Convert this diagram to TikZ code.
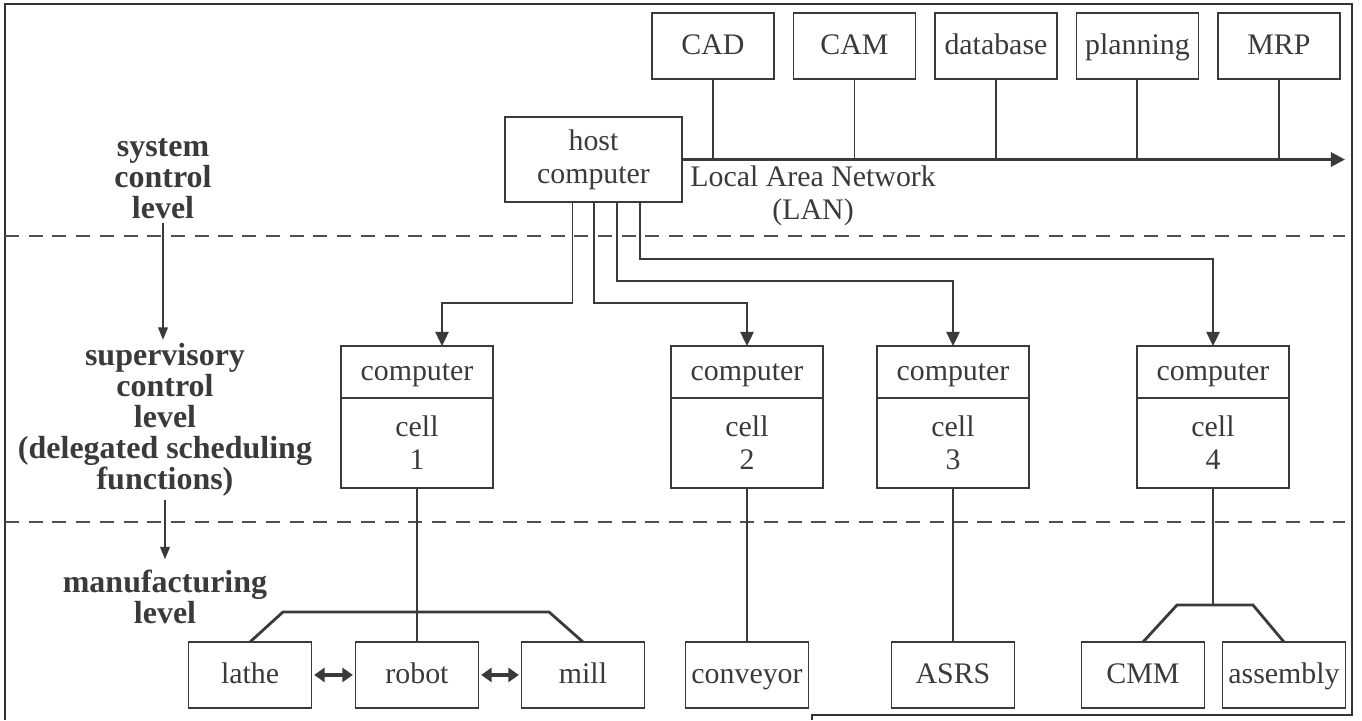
\documentclass[tikz,border=0pt]{standalone}
\usepackage{fontspec}
\setmainfont{Liberation Serif}
\usepackage{tikz}
\usetikzlibrary{arrows.meta,positioning,calc}
\definecolor{inkgray}{RGB}{58,58,58}
\definecolor{dashgray}{RGB}{80,80,80}

\begin{document}
\begin{tikzpicture}[
    x=0.02cm, y=-0.02cm,
    every node/.style={text=inkgray, font=\fontsize{17}{18.7}\selectfont},
    box/.style={rectangle, draw=inkgray, line width=0.8pt, inner sep=1pt, outer sep=0pt, align=center},
    oneline/.style={text height=13pt, text depth=3pt},
    lanbox/.style={box, oneline, minimum width=2.44cm, minimum height=1.32cm},
    hostbox/.style={box, minimum width=3.54cm, minimum height=1.7cm},
    celltop/.style={box, oneline, minimum width=3.04cm, minimum height=1.04cm},
    cellbody/.style={box, minimum width=3.04cm, minimum height=1.8cm},
    device/.style={box, oneline, minimum width=2.46cm, minimum height=1.32cm},
    level/.style={font=\fontsize{18.2}{17.6}\selectfont\bfseries, align=center, inner sep=2pt},
    link/.style={draw=inkgray, line width=1.1pt},
    bus/.style={draw=inkgray, line width=1.6pt},
    arrow/.style={link, -{Triangle[length=8pt,width=7.5pt]}},
    twoway/.style={draw=inkgray, line width=2pt, {Triangle[length=6pt,width=8pt]}-{Triangle[length=6pt,width=8pt]}, shorten <=1.5pt, shorten >=1.5pt},
    levelarrow/.style={draw=inkgray, line width=0.9pt, -{Triangle[length=7pt,width=5.5pt]}},
    divider/.style={draw=dashgray, line width=0.9pt, dash pattern=on 8pt off 5.5pt},
    frame/.style={draw=black!80, line width=1pt}
]
\useasboundingbox (0,0) rectangle (1362,720);

% Page frame
\draw[frame] (5,720) -- (5,4) -- (1352,4) -- (1352,715) -- (812,715) -- (812,720);

% Level separators
\draw[divider] (5,236) -- (1345,236);
\draw[divider] (5,522) -- (1345,522);

% Level labels
\node[level] (syslevel) at (163,179) {system\\control\\level};
\node[level] (suplevel) at (165,420) {supervisory\\control\\level\\(delegated scheduling\\functions)};
\node[level] (mfglevel) at (165,597) {manufacturing\\level};

\draw[levelarrow] (syslevel.south) -- (syslevel.south |- suplevel.north);
\draw[levelarrow, shorten >=4pt] (suplevel.south) -- (suplevel.south |- mfglevel.north);

% System level: host and LAN
\node[hostbox] (host) at (593.5,159.5) {host\\computer};
\coordinate (lanend) at ($(host.east)+(663,0)$);

\node[lanbox] (CAD) at (713,46) {CAD};
\node[lanbox, right=0.39cm of CAD] (CAM) {CAM};
\node[lanbox, right=0.39cm of CAM] (database) {database};
\node[lanbox, right=0.39cm of database] (planning) {planning};
\node[lanbox, right=0.39cm of planning] (MRP) {MRP};

\draw[bus, -{Triangle[length=8pt,width=8pt]}] (host.east) -- (lanend);
\draw[link] (CAD) -- (CAD |- lanend);
\draw[link] (CAM) -- (CAM |- lanend);
\draw[link] (database) -- (database |- lanend);
\draw[link] (planning) -- (planning |- lanend);
\draw[link] (MRP) -- (MRP |- lanend);

\node[anchor=north west, inner sep=0pt, align=center] (lanlabel) at ($(host.east)+(8,6)$) {Local Area Network\\(LAN)};

% Supervisory level: cell computers
\node[celltop] (cell1t) at (417,372) {computer};
\node[cellbody, below=0pt of cell1t] (cell1b) {cell\\1};
\node[celltop] (cell2t) at (747,372) {computer};
\node[cellbody, below=0pt of cell2t] (cell2b) {cell\\2};
\node[celltop] (cell3t) at (953,372) {computer};
\node[cellbody, below=0pt of cell3t] (cell3b) {cell\\3};
\node[celltop] (cell4t) at (1213,372) {computer};
\node[cellbody, below=0pt of cell4t] (cell4b) {cell\\4};

% Host to cells
\draw[arrow] ($(host.south)+(-21,0)$) -- ++(0,101) -| ($(cell1t.north)+(25,0)$);
\draw[arrow] ($(host.south)+(0.5,0)$) -- ++(0,101) -| (cell2t.north);
\draw[arrow] ($(host.south)+(23.5,0)$) -- ++(0,79) -| (cell3t.north);
\draw[arrow] ($(host.south)+(46.5,0)$) -- ++(0,57) -| (cell4t.north);

% Manufacturing level: devices
\node[device, below=3.08cm of cell1b] (robot) {robot};
\node[device, left=0.88cm of robot] (lathe) {lathe};
\node[device, right=0.86cm of robot] (mill) {mill};
\node[device, below=3.08cm of cell2b] (conveyor) {conveyor};
\node[device, below=3.08cm of cell3b] (ASRS) {ASRS};
\node[device] (CMM) at (1143,675) {CMM};
\node[device, right=0.36cm of CMM] (assembly) {assembly};

% Cell 1
\draw[link] (cell1b) -- (robot);
\draw[bus] (lathe.north) -- ++(33,-30) -- ($(mill.north)+(-34,-30)$) -- (mill.north);
\draw[twoway] (lathe) -- (robot);
\draw[twoway] (robot) -- (mill);

% Cells 2 and 3
\draw[link] (cell2b) -- (conveyor);
\draw[link] (cell3b) -- (ASRS);

% Cell 4
\draw[link] (cell4b) -- ($(cell4b.south |- CMM.north)+(0,-37)$);
\draw[bus] (CMM.north) -- ++(34,-37) -- ($(assembly.north)+(-31,-37)$) -- (assembly.north);

\end{tikzpicture}
\end{document}
